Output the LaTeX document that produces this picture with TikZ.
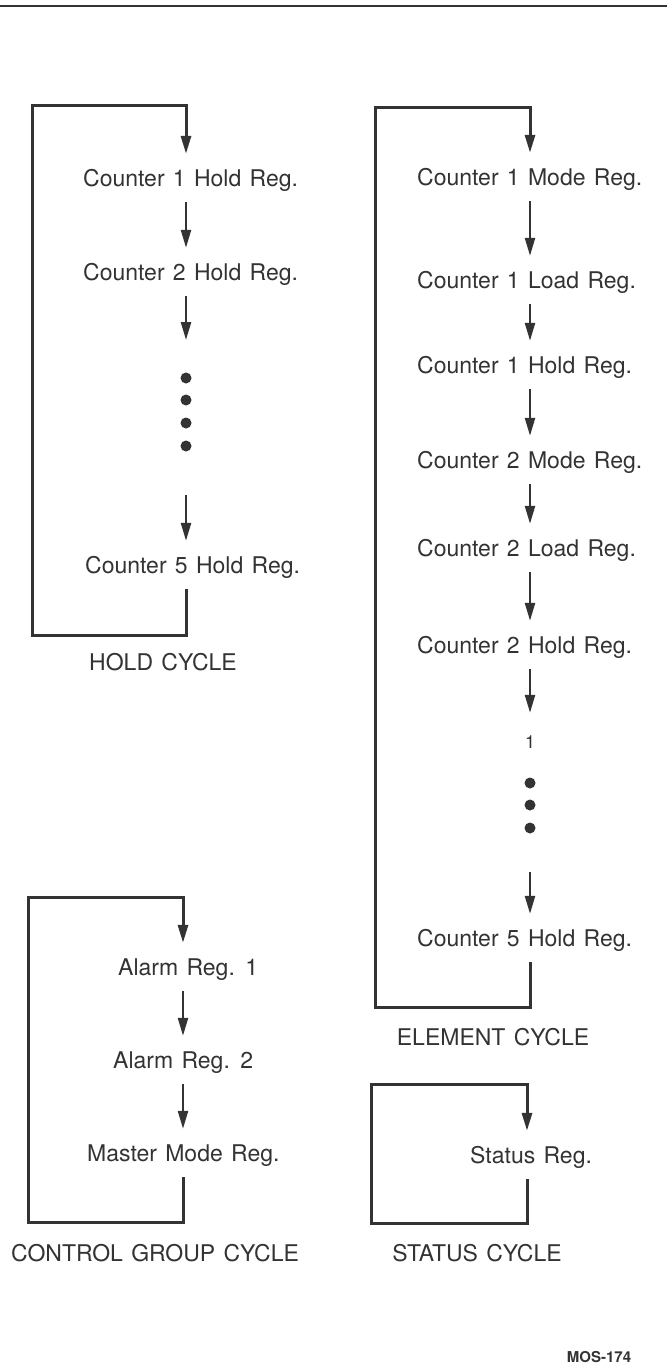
\documentclass[tikz,border=0pt]{standalone}
\usepackage{fontspec}
\setmainfont{TeX Gyre Heros}[WordSpace=1.3]
\usetikzlibrary{arrows.meta}
\definecolor{ink}{gray}{0.2}
\begin{document}
\begin{tikzpicture}[x=1pt,y=-1pt,
  reg/.style={font=\fontsize{23}{23}\selectfont, text=ink, inner sep=0pt,
              text height=16.5pt, text depth=0pt, minimum height=48pt, anchor=west},
  lbl/.style={font=\fontsize{23}{23}\selectfont, text=ink, inner sep=0pt},
  arr/.style={draw=ink, line width=2.4pt, -{Triangle[length=18pt,width=10pt]}},
  loopline/.style={draw=ink, line width=3pt, line join=miter, -{Triangle[length=18pt,width=10pt]}},
  dotnode/.style={circle, fill=ink, inner sep=0pt, minimum size=11pt}]
\useasboundingbox (0,0) rectangle (667,1372);
\fill[white] (0,0) rectangle (667,1372);

% top rule
\coordinate (ruleL) at (0,6);
\coordinate (ruleR) at (667,6);
\draw[ink, line width=2.2pt] (ruleL) -- (ruleR);

% ---------------- HOLD CYCLE ----------------
\coordinate (hx) at (186,0);
\node[reg] (h1) at (83,178) {Counter 1 Hold Reg.};
\node[reg] (h2) at (83,272) {Counter 2 Hold Reg.};
\node[dotnode] (hdA) at (186,378) {};
\node[dotnode] (hdB) at (186,400) {};
\node[dotnode] (hdC) at (186,423) {};
\node[dotnode] (hdD) at (186,446) {};
\node[reg] (h5) at (85,565) {Counter 5 Hold Reg.};
\coordinate (hin) at (186,340);
\coordinate (hout) at (186,495);
\coordinate (hTL) at (32,106);
\coordinate (hTR) at (186,106);
\coordinate (hBL) at (32,635);
\coordinate (hBR) at (186,635);
\draw[arr] (h1.south -| hx) -- (h2.north -| hx);
\draw[arr] (h2.south -| hx) -- (hin);
\draw[arr] (hout) -- (h5.north -| hx);
\draw[loopline] (h5.south -| hx) -- (hBR) -- (hBL) -- (hTL) -- (hTR) -- (h1.north -| hx);
\node[lbl] (holdlbl) at (163,662) {HOLD CYCLE};

% ---------------- ELEMENT CYCLE ----------------
\coordinate (ex) at (530,0);
\node[reg] (e1) at (417,177) {Counter 1 Mode Reg.};
\node[reg] (e2) at (417,280) {Counter 1 Load Reg.};
\node[reg] (e3) at (417,365) {Counter 1 Hold Reg.};
\node[reg] (e4) at (417,460) {Counter 2 Mode Reg.};
\node[reg] (e5) at (417,548) {Counter 2 Load Reg.};
\node[reg] (e6) at (417,645) {Counter 2 Hold Reg.};
\node[font=\fontsize{18}{18}\selectfont, text=ink, inner sep=0pt, text height=13pt,
      text depth=0pt, minimum height=58pt] (eone) at (530,742) {1};
\node[dotnode] (edA) at (530,783) {};
\node[dotnode] (edB) at (530,805) {};
\node[dotnode] (edC) at (530,828) {};
\node[reg] (e7) at (417,938) {Counter 5 Hold Reg.};
\coordinate (eout) at (530,872);
\coordinate (eTL) at (375,108);
\coordinate (eTR) at (530,108);
\coordinate (eBL) at (375,1007);
\coordinate (eBR) at (530,1007);
\draw[arr] (e1.south -| ex) -- (e2.north -| ex);
\draw[arr] (e2.south -| ex) -- (e3.north -| ex);
\draw[arr] (e3.south -| ex) -- (e4.north -| ex);
\draw[arr] (e4.south -| ex) -- (e5.north -| ex);
\draw[arr] (e5.south -| ex) -- (e6.north -| ex);
\draw[arr] (e6.south -| ex) -- (eone.north);
\draw[arr] (eout) -- (e7.north -| ex);
\draw[loopline] (e7.south -| ex) -- (eBR) -- (eBL) -- (eTL) -- (eTR) -- (e1.north -| ex);
\node[lbl] (elemlbl) at (493,1037) {ELEMENT CYCLE};

% ---------------- CONTROL GROUP CYCLE ----------------
\coordinate (cx) at (183,0);
\node[reg] (c1) at (118,967) {Alarm Reg. 1};
\node[reg] (c2) at (113,1060) {Alarm Reg. 2};
\node[reg] (c3) at (87,1153) {Master Mode Reg.};
\coordinate (cTL) at (28,897);
\coordinate (cTR) at (183,897);
\coordinate (cBL) at (28,1222);
\coordinate (cBR) at (183,1222);
\draw[arr] (c1.south -| cx) -- (c2.north -| cx);
\draw[arr] (c2.south -| cx) -- (c3.north -| cx);
\draw[loopline] (c3.south -| cx) -- (cBR) -- (cBL) -- (cTL) -- (cTR) -- (c1.north -| cx);
\node[lbl] (ctrllbl) at (155,1253) {CONTROL GROUP CYCLE};

% ---------------- STATUS CYCLE ----------------
\coordinate (sx) at (527,0);
\node[reg] (s1) at (470,1155) {Status Reg.};
\coordinate (sTL) at (371,1084);
\coordinate (sTR) at (527,1084);
\coordinate (sBL) at (371,1223);
\coordinate (sBR) at (527,1223);
\draw[loopline] (s1.south -| sx) -- (sBR) -- (sBL) -- (sTL) -- (sTR) -- (s1.north -| sx);
\node[lbl] (statlbl) at (477,1253) {STATUS CYCLE};

% figure number
\node[font=\fontsize{15}{15}\selectfont\bfseries, text=ink, inner sep=0pt] (fig) at (599,1357) {MOS-174};
\end{tikzpicture}
\end{document}
